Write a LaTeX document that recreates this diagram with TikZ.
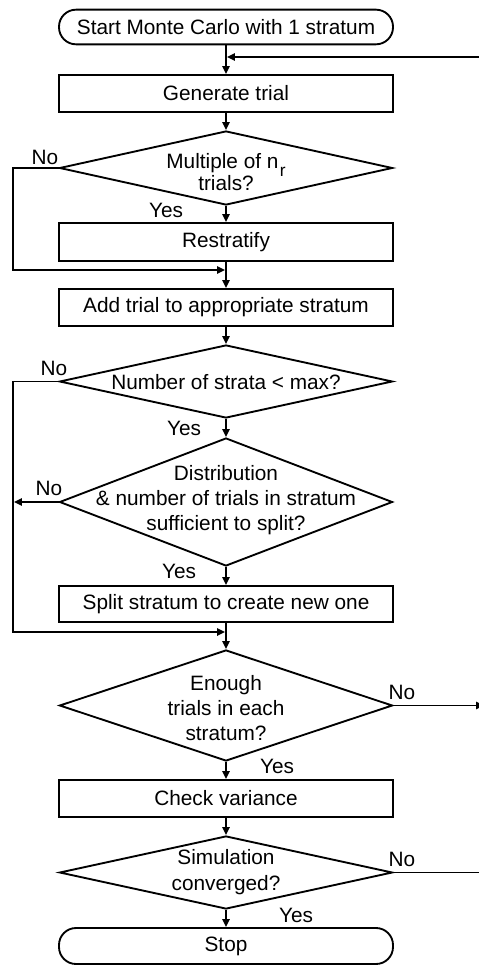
\documentclass[tikz,border=0pt]{standalone}
\usepackage{fontspec}
\setmainfont{Liberation Sans}
\usetikzlibrary{arrows.meta,shapes.geometric}
\begin{document}
\begin{tikzpicture}[x=0.75pt,y=-0.75pt,
  font=\fontsize{15.6pt}{19pt}\selectfont,
  line width=1.4pt,
  box/.style={draw,rectangle,minimum width=250.5pt,minimum height=27.75pt,inner sep=0pt},
  term/.style={draw,rectangle,rounded corners=12.75pt,minimum width=250.5pt,minimum height=26pt,inner sep=0pt},
  decision/.style={draw,diamond,inner sep=0pt,minimum width=249.75pt},
  dtext/.style={align=center,inner sep=0pt},
  lbl/.style={inner sep=0pt},
  arr/.style={-{Triangle[length=6pt,width=5.5pt]}},
  toline/.style={arr,shorten >=0.7pt}
]
\useasboundingbox (0,0) rectangle (478,966);

% process steps
\node[term] (start) at (226,27) {Start Monte Carlo with 1 stratum};
\node[box] (gen) at (226,93.5) {Generate trial};
\node[decision,minimum height=55.5pt] (d1) at (226,168) {};
\node[dtext] (d1t) at (226,172) {Multiple of n\kern1pt\raisebox{-6pt}{\fontsize{13pt}{13pt}\selectfont r}\\[-2pt]trials?};
\node[box,minimum height=28.5pt] (restr) at (226,242) {Restratify};
\node[box] (add) at (226,307.5) {Add trial to appropriate stratum};
\node[decision,minimum height=54.75pt] (d2) at (226,381.5) {};
\node[dtext] (d2t) at (226,382) {Number of strata < max?};
\node[decision,minimum height=96pt] (d3) at (226,502) {};
\node[dtext] (d3t) at (226,500) {Distribution\\\& number of trials in stratum\\sufficient to split?};
\node[box,minimum height=27pt] (split) at (226,604) {Split stratum to create new one};
\node[decision,minimum height=83.25pt] (d4) at (226,705.5) {};
\node[dtext] (d4t) at (226,708) {Enough\\trials in each\\stratum?};
\node[box] (check) at (226,798.5) {Check variance};
\node[decision,minimum height=54.75pt] (d5) at (226,872.5) {};
\node[dtext] (d5t) at (226,872) {Simulation\\converged?};
\node[term,minimum height=27pt] (stop) at (226,946) {Stop};

% branch labels
\node[lbl] (no1) at (45,157) {No};
\node[lbl] (yes1) at (166,210) {Yes};
\node[lbl] (no2) at (54,368) {No};
\node[lbl] (yes2) at (184,428) {Yes};
\node[lbl] (no3) at (49,488) {No};
\node[lbl] (yes3) at (179,571) {Yes};
\node[lbl] (no4) at (402,692) {No};
\node[lbl] (yes4) at (277,766) {Yes};
\node[lbl] (no5) at (402,859) {No};
\node[lbl] (yes5) at (296,915) {Yes};

% junction points and loop corners
\coordinate (rin) at (480,57);
\coordinate (j0) at (226,57);
\coordinate (l1) at (13,168);
\coordinate (m1) at (226,270);
\coordinate (l2) at (13,381.5);
\coordinate (m2) at (226,632);
\coordinate (l3) at (13,502);
\coordinate (r4) at (484,705.5);
\coordinate (r5) at (480,872.5);

% main flow
\draw[arr] (start.south) -- (gen.north);
\draw[toline] (rin) -- (j0);
\draw[arr] (gen.south) -- (d1.north);
\draw[arr] (d1.south) -- (restr.north);
\draw[arr] (restr.south) -- (add.north);
\draw[arr] (add.south) -- (d2.north);
\draw[arr] (d2.south) -- (d3.north);
\draw[arr] (d3.south) -- (split.north);
\draw[arr] (split.south) -- (d4.north);
\draw[arr] (d4.south) -- (check.north);
\draw[arr] (check.south) -- (d5.north);
\draw[arr] (d5.south) -- (stop.north);

% bypass loops
\draw[toline] (d1.west) -- (l1) |- (m1);
\draw[toline] (d2.west) -- (l2) |- (m2);
\draw[toline] (d3.west) -- (l3);

% exits to the right
\draw[arr] (d4.east) -- (r4);
\draw (d5.east) -- (r5);
\end{tikzpicture}
\end{document}
